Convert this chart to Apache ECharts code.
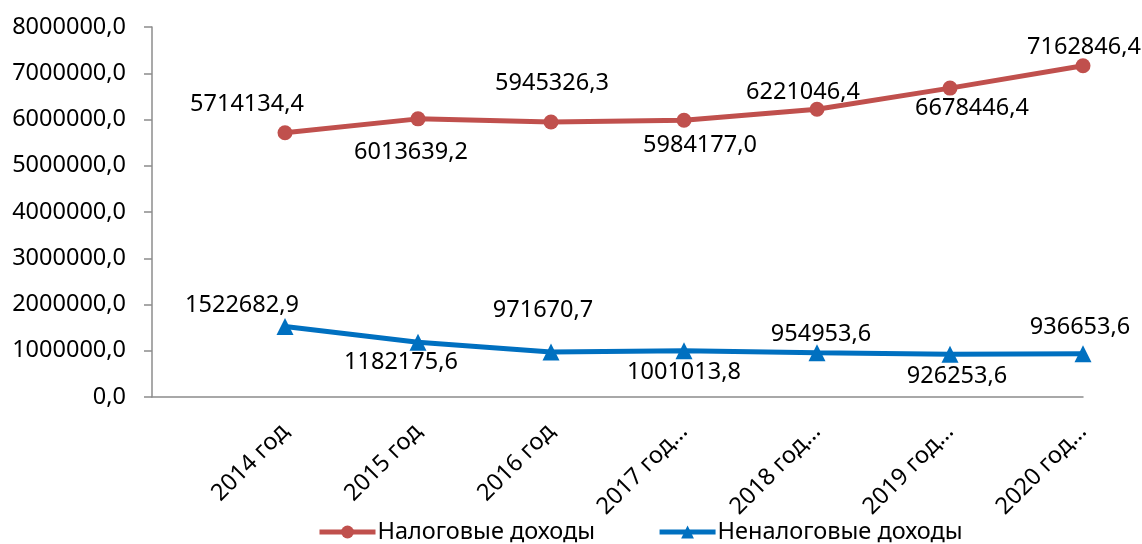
<!DOCTYPE html>
<html>
<head>
<meta charset="utf-8">
<script src="https://cdn.jsdelivr.net/npm/echarts@6/dist/echarts.min.js"></script>
<style>
html,body{margin:0;padding:0;background:#fff;}
#chart{width:1142px;height:544px;}
</style>
</head>
<body>
<div id="chart"></div>
<script>
var categories = ['2014 год', '2015 год', '2016 год', '2017 год…', '2018 год…', '2019 год…', '2020 год…'];
var taxIncome = [5714134.4, 6013639.2, 5945326.3, 5984177.0, 6221046.4, 6678446.4, 7162846.4];
var nonTaxIncome = [1522682.9, 1182175.6, 971670.7, 1001013.8, 954953.6, 926253.6, 936653.6];
var seriesNames = ['Налоговые доходы', 'Неналоговые доходы'];
var yTicks = { min: 0, max: 8000000, interval: 1000000 };

// label placement (style only)
var taxLabelOffsets = [[-38,-28],[-7,33],[1,-39],[16,25],[-14,-17],[22,20],[1,-18]];
var nonTaxLabelOffsets = [[-43,-21],[-17,20],[-8,-42],[0,22],[4,-19],[7,22],[-3,-26]];

var FONT = '"Noto Sans", sans-serif';
function fmt(v){ return Number(v).toFixed(1).replace('.', ','); }

function buildData(vals, offs){
  var out = [{value: null}];
  vals.forEach(function(v, i){
    out.push({ value: v, label: { offset: offs[i] } });
  });
  return out;
}

var chart = echarts.init(document.getElementById('chart'), null, {renderer:'canvas'});
var labelBase = {
  show: true, position: 'inside', align: 'center', verticalAlign: 'middle',
  color: '#000', fontFamily: FONT, fontSize: 23.5,
  formatter: function(p){ return fmt(p.value); }
};
chart.setOption({
  animation: false,
  grid: { left: 152, right: 59, top: 27, bottom: 147, containLabel: false },
  legend: {
    top: 515, left: 312,
    itemWidth: 56, itemHeight: 16, itemGap: 62,
    lineStyle: { width: 5 },
    textStyle: { fontFamily: FONT, fontSize: 23.5, color: '#000', padding: [0,0,0,-3] },
    data: seriesNames
  },
  xAxis: {
    type: 'category',
    boundaryGap: false,
    data: [''].concat(categories),
    axisLine: { lineStyle: { color: '#8c8c8c', width: 1.5 } },
    axisTick: { show: false },
    axisLabel: { rotate: 45, margin: 31, color: '#000', fontFamily: FONT, fontSize: 23.5, interval: 0 }
  },
  yAxis: {
    type: 'value',
    min: yTicks.min, max: yTicks.max, interval: yTicks.interval,
    axisLine: { show: true, lineStyle: { color: '#8c8c8c', width: 1.5 } },
    axisTick: { show: true, length: 8, lineStyle: { color: '#8c8c8c', width: 1.5 } },
    splitLine: { show: false },
    axisLabel: { margin: 26, color: '#000', fontFamily: FONT, fontSize: 23.5, formatter: fmt }
  },
  series: [
    {
      name: seriesNames[0], type: 'line',
      data: buildData(taxIncome, taxLabelOffsets),
      symbol: 'circle', symbolSize: 15, showAllSymbol: true,
      lineStyle: { color: '#C0504D', width: 5 },
      itemStyle: { color: '#C0504D' },
      label: labelBase
    },
    {
      name: seriesNames[1], type: 'line',
      data: buildData(nonTaxIncome, nonTaxLabelOffsets),
      symbol: 'triangle', symbolSize: 17, showAllSymbol: true,
      lineStyle: { color: '#0070C0', width: 5 },
      itemStyle: { color: '#0070C0' },
      label: labelBase
    }
  ]
});
</script>
</body>
</html>
